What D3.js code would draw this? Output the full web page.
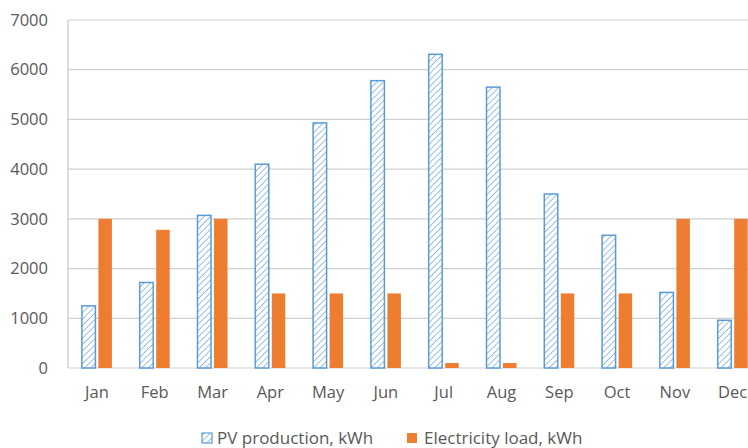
<!DOCTYPE html>
<html>
<head>
<meta charset="utf-8">
<script src="https://cdn.jsdelivr.net/npm/d3@7"></script>
<style>
  body { margin: 0; background: #fff; }
  text { font-family: "Open Sans", "DejaVu Sans", sans-serif; }
</style>
</head>
<body>
<div id="grafico"></div>
<script>
const meses = ["Jan", "Feb", "Mar", "Apr", "May", "Jun", "Jul", "Aug", "Sep", "Oct", "Nov", "Dec"];
const produccionPV = [1250, 1720, 3070, 4100, 4930, 5780, 6310, 5650, 3500, 2670, 1520, 960];
const cargaElectrica = [3000, 2780, 3000, 1500, 1500, 1500, 100, 100, 1500, 1500, 3000, 3000];
const ticksY = [0, 1000, 2000, 3000, 4000, 5000, 6000, 7000];
const nombresSeries = ["PV production, kWh", "Electricity load, kWh"];

const ancho = 748, alto = 448;
const izq = 68, arriba = 20, abajo = 368;
const anchoBanda = 57.8;

const svg = d3.select("#grafico").append("svg")
  .attr("width", ancho)
  .attr("height", alto);

// patrón rayado para PV
const defs = svg.append("defs");
const patron = defs.append("pattern")
  .attr("id", "rayas")
  .attr("patternUnits", "userSpaceOnUse")
  .attr("width", 4.5)
  .attr("height", 4.5)
  .attr("patternTransform", "rotate(45)");
patron.append("rect").attr("width", 4.5).attr("height", 4.5).attr("fill", "#fff");
patron.append("line")
  .attr("x1", 0).attr("y1", 0).attr("x2", 0).attr("y2", 4.5)
  .attr("stroke", "#8db8e3").attr("stroke-width", 1.8);

const x = d3.scaleBand()
  .domain(meses)
  .range([izq, izq + anchoBanda * meses.length]);

const y = d3.scaleLinear()
  .domain([0, 7000])
  .range([abajo, arriba]);

// rejilla
svg.append("g")
  .selectAll("line")
  .data(ticksY.filter(d => d > 0))
  .enter().append("line")
  .attr("x1", izq)
  .attr("x2", ancho)
  .attr("y1", d => y(d))
  .attr("y2", d => y(d))
  .attr("stroke", "#d0d0d0")
  .attr("stroke-width", 1.2);

// eje izquierdo y base
svg.append("line")
  .attr("x1", izq).attr("x2", izq)
  .attr("y1", arriba).attr("y2", abajo)
  .attr("stroke", "#c8c8c8").attr("stroke-width", 1.2);
svg.append("line")
  .attr("x1", izq).attr("x2", ancho)
  .attr("y1", abajo).attr("y2", abajo)
  .attr("stroke", "#d0d0d0").attr("stroke-width", 1.2);

// etiquetas eje Y
const ejeY = d3.axisLeft(y).tickValues(ticksY).tickFormat(d3.format("d")).tickSize(0).tickPadding(20);
svg.append("g")
  .attr("transform", `translate(${izq},0)`)
  .call(ejeY)
  .call(g => g.select(".domain").remove())
  .call(g => g.selectAll("text")
    .attr("fill", "#595959")
    .attr("font-size", 16.5)
    .style("font-family", "'Open Sans', sans-serif"));

// etiquetas eje X
const ejeX = d3.axisBottom(x).tickSize(0).tickPadding(18);
svg.append("g")
  .attr("transform", `translate(0,${abajo})`)
  .call(ejeX)
  .call(g => g.select(".domain").remove())
  .call(g => g.selectAll("text")
    .attr("fill", "#595959")
    .attr("font-size", 16.5)
    .style("font-family", "'Open Sans', sans-serif"));

// barras
const anchoBarra = 13.5;
const separacion = 3;

svg.append("g")
  .selectAll("rect")
  .data(meses)
  .enter().append("rect")
  .attr("x", d => x(d) + x.bandwidth() / 2 - separacion / 2 - anchoBarra)
  .attr("y", (d, i) => y(produccionPV[i]))
  .attr("width", anchoBarra)
  .attr("height", (d, i) => y(0) - y(produccionPV[i]))
  .attr("fill", "url(#rayas)")
  .attr("stroke", "#5b9bd5")
  .attr("stroke-width", 1.5);

svg.append("g")
  .selectAll("rect")
  .data(meses)
  .enter().append("rect")
  .attr("x", d => x(d) + x.bandwidth() / 2 + separacion / 2)
  .attr("y", (d, i) => y(cargaElectrica[i]))
  .attr("width", anchoBarra)
  .attr("height", (d, i) => y(0) - y(cargaElectrica[i]))
  .attr("fill", "#ed7d31");

// leyenda
const leyenda = [
  { x: 202, texto: 217, relleno: "url(#rayas)", borde: "#5b9bd5" },
  { x: 407, texto: 424, relleno: "#ed7d31", borde: "none" }
];
leyenda.forEach((l, i) => {
  svg.append("rect")
    .attr("x", l.x)
    .attr("y", 433)
    .attr("width", 10)
    .attr("height", 10)
    .attr("fill", l.relleno)
    .attr("stroke", l.borde)
    .attr("stroke-width", 1.2);
  svg.append("text")
    .attr("x", l.texto)
    .attr("y", 444)
    .attr("fill", "#595959")
    .attr("font-size", 17)
    .text(nombresSeries[i]);
});
</script>
</body>
</html>
